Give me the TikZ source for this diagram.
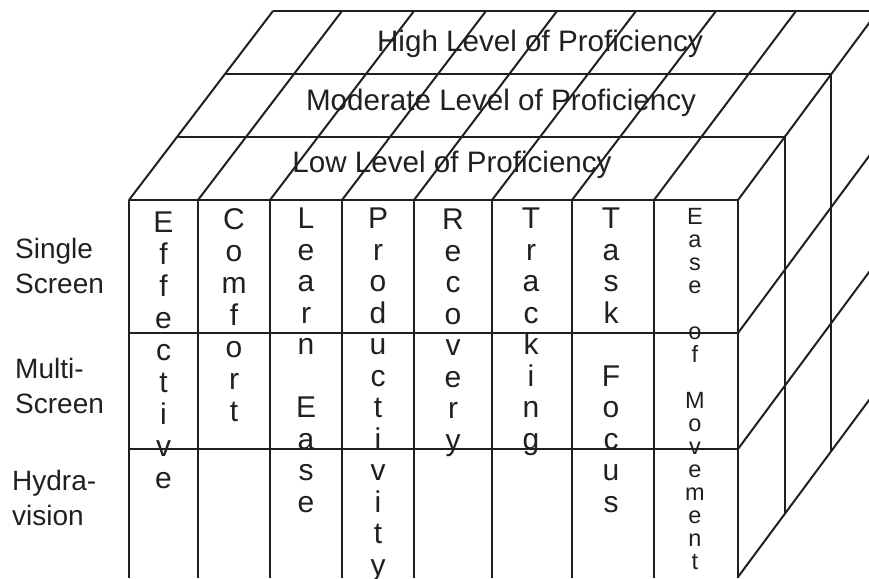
\documentclass[tikz,border=0pt]{standalone}
\usepackage{fontspec}
\setmainfont{Liberation Sans}
\definecolor{ink}{RGB}{35,31,32}
\begin{document}
\begin{tikzpicture}[x=1pt,y=-1pt,
  grid/.style={draw=ink,line width=2pt},
  vword/.style={anchor=north,inner sep=0pt,align=center,text=ink,font=\fontsize{30}{31.5}\selectfont},
  vwide/.style={anchor=north,inner sep=0pt,align=center,text=ink,font=\fontsize{30}{32}\selectfont},
  vsmall/.style={anchor=north,inner sep=0pt,align=center,text=ink,font=\fontsize{23.5}{23}\selectfont},
  lvl/.style={anchor=base,inner sep=0pt,text=ink,font=\fontsize{29.6}{34}\selectfont},
  rowlab/.style={anchor=north west,inner sep=0pt,align=left,text=ink,font=\fontsize{28}{35}\selectfont}]
\useasboundingbox (0,0) rectangle (869,578);
\begin{scope}
\clip (0,0) rectangle (869,578);
% front verticals
\foreach \x in {129,198,270,342,414,492,572,654,738}
  \draw[grid] (\x,200) -- (\x,578);
% front horizontals
\foreach \y in {200,333,449}
  \draw[grid] (129,\y) -- (738,\y);
% top face diagonals
\foreach \x/\t in {129/273,198/342,270/414,342/486,414/557,492/636,572/716,654/796,738/878}
  \draw[grid] (\x,200) -- (\t,11);
% top face rows
\draw[grid] (177,137) -- (784.7,137);
\draw[grid] (225,74) -- (831.3,74);
\draw[grid] (273,11) -- (878,11);
% right face verticals
\draw[grid] (784.7,137) -- (784.7,514);
\draw[grid] (831.3,74) -- (831.3,451);
% right face diagonals
\foreach \y in {333,449,577}
  \draw[grid] (738,\y) -- (878,\y-189);
\end{scope}
% level labels
\node[lvl] (high) at (540,52) {High Level of Proficiency};
\node[lvl] (mod) at (501,110) {Moderate Level of Proficiency};
\node[lvl] (low) at (452,172) {Low Level of Proficiency};
% column words
\node[vwide] (c1) at (163.5,212) {E\\f\\f\\e\\c\\t\\i\\v\\e};
\node[vwide] (c2) at (234,208) {C\\o\\m\\f\\o\\r\\t};
\node[vword] (c3) at (306,208) {L\\e\\a\\r\\n\\[31.5pt]E\\a\\s\\e};
\node[vword] (c4) at (378,208) {P\\r\\o\\d\\u\\c\\t\\i\\v\\i\\t\\y};
\node[vword] (c5) at (453,209) {R\\e\\c\\o\\v\\e\\r\\y};
\node[vword] (c6) at (531,208) {T\\r\\a\\c\\k\\i\\n\\g};
\node[vword] (c7) at (611,208) {T\\a\\s\\k\\[31.5pt]F\\o\\c\\u\\s};
\node[vsmall] (c8) at (695,208) {E\\a\\s\\e\\[23pt]o\\f\\[23pt]M\\o\\v\\e\\m\\e\\n\\t};
% row labels
\node[rowlab] (r1) at (15,238) {Single\\Screen};
\node[rowlab] (r2) at (15,358) {Multi-\\Screen};
\node[rowlab] (r3) at (12,470) {Hydra-\\vision};
\end{tikzpicture}
\end{document}
